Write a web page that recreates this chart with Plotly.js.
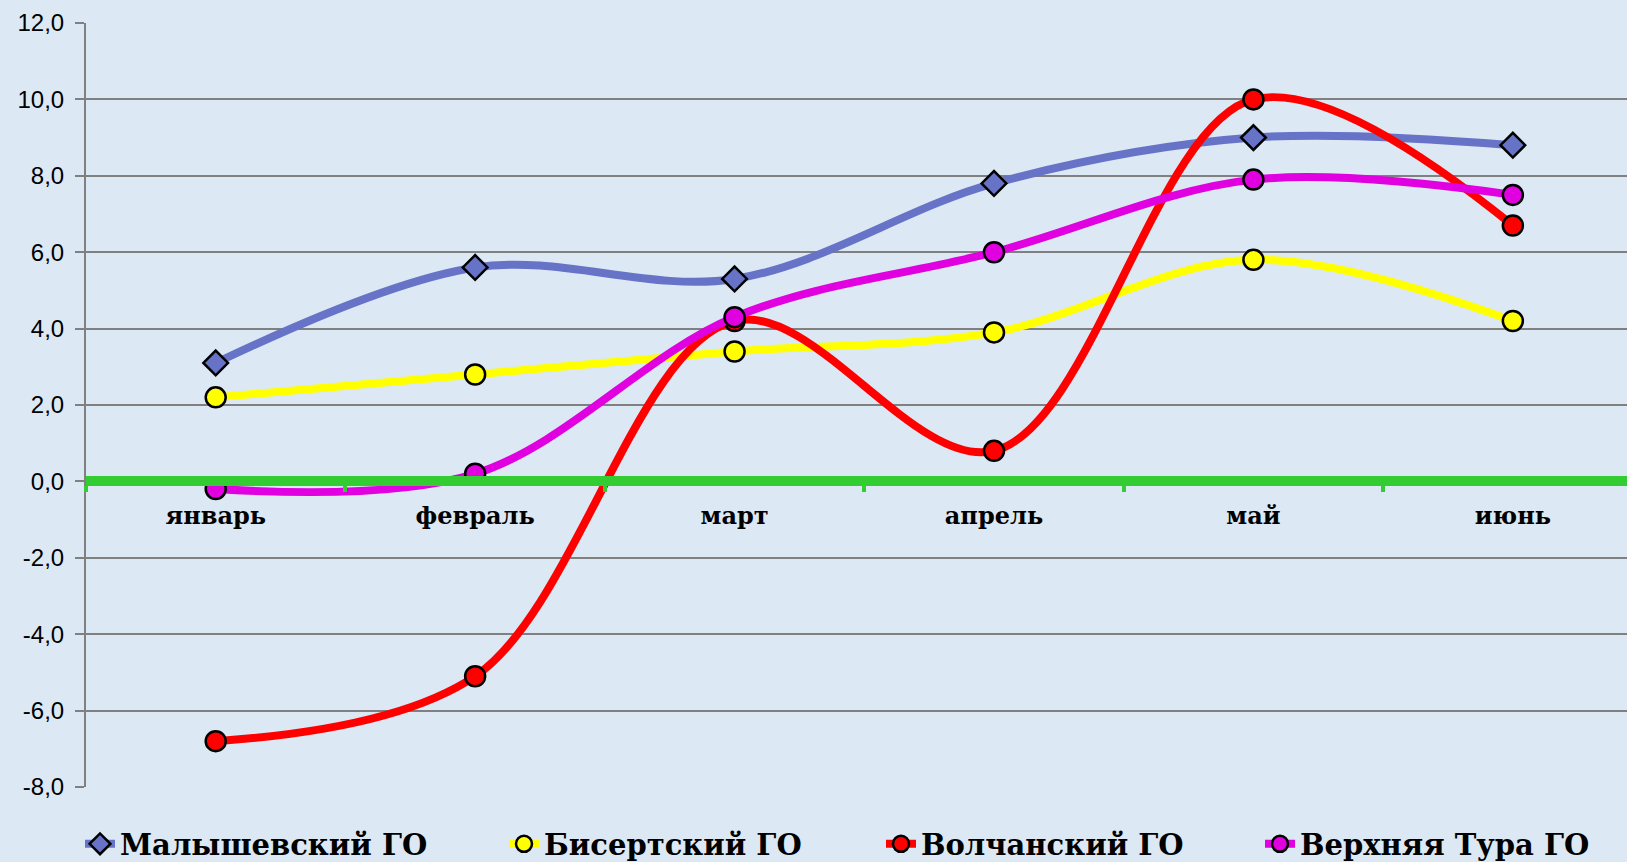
<!DOCTYPE html>
<html>
<head>
<meta charset="utf-8">
<script src="https://cdn.plot.ly/plotly-3.0.1.min.js"></script>
<style>html,body{margin:0;padding:0;background:#DCE8F4;}#chart{width:1627px;height:862px;}</style>
</head>
<body>
<div id="chart"></div>
<script>
const months = ["январь", "февраль", "март", "апрель", "май", "июнь"];
const seriesNames = ["Малышевский ГО", "Бисертский ГО", "Волчанский ГО", "Верхняя Тура ГО"];
const malyshevsky = [3.1, 5.6, 5.3, 7.8, 9.0, 8.8];
const bisertsky = [2.2, 2.8, 3.4, 3.9, 5.8, 4.2];
const volchansky = [-6.8, -5.1, 4.2, 0.8, 10.0, 6.7];
const verkhnyayaTura = [-0.2, 0.2, 4.3, 6.0, 7.9, 7.5];
const yTicks = [-8, -6, -4, -2, 0, 2, 4, 6, 8, 10, 12];
const yTickText = yTicks.map(v => v.toFixed(1).replace(".", ","));

const colors = ["#6673C6", "#FFFF00", "#FF0000", "#E000E0"];
const symbols = ["diamond", "circle", "circle", "circle"];
const sizes = [19, 20, 20, 20];
const values = [malyshevsky, bisertsky, volchansky, verkhnyayaTura];
const legendIds = ["legend", "legend2", "legend3", "legend4"];
const legendTextStart = [122, 546, 923, 1302];

const traces = values.map((v, i) => ({
  type: "scatter",
  mode: "lines+markers",
  name: seriesNames[i],
  legend: legendIds[i],
  x: months,
  y: v,
  line: {color: colors[i], width: 8, shape: "spline", smoothing: 1},
  marker: {symbol: symbols[i], size: sizes[i], color: colors[i], line: {color: "#000", width: 2.5}},
  cliponaxis: false
}));

const layout = {
  width: 1627, height: 862,
  margin: {l: 86, r: 0, t: 23, b: 75},
  paper_bgcolor: "#DCE8F4",
  plot_bgcolor: "#DCE8F4",
  showlegend: true,
  xaxis: {
    type: "category",
    range: [-0.5, 5.44],
    anchor: "free",
    position: 0.4,
    showline: true, linecolor: "#33CC33", linewidth: 10,
    showgrid: false, zeroline: false,
    ticks: "outside", tickson: "boundaries", ticklen: 6, tickwidth: 4, tickcolor: "#33CC33",
    ticklabelstandoff: 9,
    tickfont: {family: "DejaVu Serif", size: 24, color: "#000", weight: "bold"}
  },
  yaxis: {
    range: [-8, 12],
    tickvals: yTicks,
    ticktext: yTickText,
    showline: true, linecolor: "#808080", linewidth: 2,
    showgrid: true, gridcolor: "#808080", gridwidth: 2,
    zeroline: false,
    ticks: "outside", ticklen: 9, tickwidth: 2, tickcolor: "#808080",
    ticklabelstandoff: 6,
    tickfont: {family: "Liberation Sans", size: 24, color: "#000"}
  }
};

legendIds.forEach((id, i) => {
  layout[id] = {
    orientation: "h",
    xref: "container", yref: "container",
    x: (legendTextStart[i] - 42) / 1627, xanchor: "left",
    y: 18 / 862, yanchor: "middle",
    bgcolor: "rgba(0,0,0,0)",
    font: {family: "DejaVu Serif", size: 29, color: "#000", weight: "bold"}
  };
});

Plotly.newPlot("chart", traces, layout, {displayModeBar: false, staticPlot: true});
</script>
</body>
</html>
